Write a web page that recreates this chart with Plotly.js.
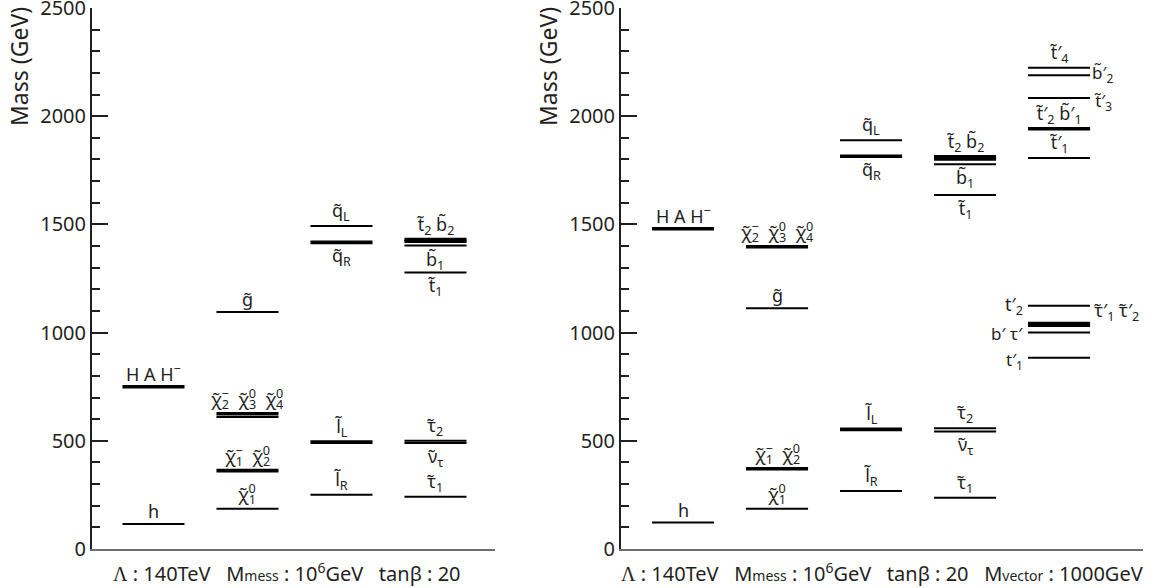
<!DOCTYPE html>
<html>
<head>
<meta charset="utf-8">
<script src="https://cdn.plot.ly/plotly-3.0.1.min.js"></script>
<style>html,body{margin:0;padding:0;background:#fff;}#chart{width:1155px;height:588px;}</style>
</head>
<body>
<div id="chart"></div>
<script>
// ---------- DATA ----------
// Left panel: Λ=140 TeV, Mmess=10^6 GeV, tanβ=20
const leftNames  = ['h','HAH','gluino','chi234a','chi234b','chi12','chi10','qL','qR','lL','lR','t2b2a','t2b2b','b1','t1','tau2','nutau','tau1'];
const leftCols   = [1, 1, 2, 2, 2, 2, 2, 3, 3, 3, 3, 4, 4, 4, 4, 4, 4, 4];
const leftMass   = [115, 750, 1095, 625, 610, 362, 186, 1493, 1417, 494, 251, 1430, 1422, 1402, 1278, 500, 490, 242];
// Right panel: same + Mvector = 1000 GeV
const rightNames = ['h','HAH','gluino','chi234','chi12','chi10','qL','qR','lL','lR','t2b2a','t2b2b','b1','t1','tau2','nutau','tau1',
                    't4p','b2p','t3p','t2pb1p','t1p','tp2','taup1','taup2','bptaup','tp1'];
const rightCols  = [1, 1, 2, 2, 2, 2, 3, 3, 3, 3, 4, 4, 4, 4, 4, 4, 4, 5, 5, 5, 5, 5, 5, 5, 5, 5, 5];
const rightMass  = [122, 1480, 1112, 1397, 371, 186, 1889, 1815, 553, 268, 1813, 1803, 1778, 1636, 558, 543, 237,
                    2224, 2189, 2084, 1942, 1807, 1124, 1042, 1030, 1000, 884];
// levels drawn with a heavy stroke
const thickLeft  = ['HAH','chi234a','chi12','qR','lL','t2b2a','t2b2b'];
const thickRight = ['HAH','chi234','chi12','qR','lL','t2b2a','t2b2b','t2pb1p','taup1'];

const yTicks = [0, 500, 1000, 1500, 2000, 2500];

// ---------- STYLE ----------
const INK = '#231f20';
const FONT = 'Noto Sans, Open Sans, sans-serif';
const HW = 0.33; // half width of a level, in column units

function buildTraces(names, cols, mass, thick, xa, ya) {
  const thin = {x: [], y: []}, heavy = {x: [], y: []};
  names.forEach((n, i) => {
    const t = thick.includes(n) ? heavy : thin;
    t.x.push(cols[i] - HW, cols[i] + HW, null);
    t.y.push(mass[i], mass[i], null);
  });
  const base = {type: 'scatter', mode: 'lines', xaxis: xa, yaxis: ya, hoverinfo: 'skip', showlegend: false};
  return [
    Object.assign({}, base, {x: thin.x, y: thin.y, line: {color: '#000', width: 2}}),
    Object.assign({}, base, {x: heavy.x, y: heavy.y, line: {color: '#000', width: 3.6}})
  ];
}

const data = [].concat(
  buildTraces(leftNames, leftCols, leftMass, thickLeft, 'x', 'y'),
  buildTraces(rightNames, rightCols, rightMass, thickRight, 'x2', 'y2')
);

function mOf(names, mass, n) { return mass[names.indexOf(n)]; }
function cOf(names, cols, n) { return cols[names.indexOf(n)]; }

const ann = [];
function lab(panel, n, text, pos, size) {
  const names = panel === 1 ? leftNames : rightNames;
  const cols = panel === 1 ? leftCols : rightCols;
  const mass = panel === 1 ? leftMass : rightMass;
  const c = cOf(names, cols, n), m = mOf(names, mass, n);
  const a = {xref: panel === 1 ? 'x' : 'x2', yref: panel === 1 ? 'y' : 'y2', text: text, showarrow: false,
             font: {family: FONT, size: size || 18, color: INK}, x: c, y: m};
  if (pos === 'above') { a.yanchor = 'bottom'; a.yshift = -1; }
  else if (pos === 'below') { a.yanchor = 'top'; a.yshift = 1; }
  else if (pos === 'left') { a.x = c - HW; a.xanchor = 'right'; a.xshift = -3; a.yanchor = 'middle'; }
  else if (pos === 'right') { a.x = c + HW; a.xanchor = 'left'; a.xshift = 1; a.yanchor = 'middle'; }
  if (typeof pos === 'object') Object.assign(a, pos);
  ann.push(a);
}
const T = '\u0303';
const chi = '\u03c7' + T;
// stacked sub/superscript: subscript, then step back, then superscript
const BACK = '<span style="letter-spacing:-12px"> </span>';
function ss(sub, sup) { return '<sub>' + sub + '</sub>' + BACK + '<sup>' + sup + '</sup>'; }
const CHI234 = chi + ss('2', '\u2212') + '  ' + chi + ss('3', '0') + '  ' + chi + ss('4', '0');
const CHI12 = chi + ss('1', '\u2212') + '  ' + chi + ss('2', '0');
const CHI1 = chi + ss('1', '0');
// Left panel labels
lab(1, 'h', 'h', 'above');
lab(1, 'HAH', 'H A H<sup>\u2212</sup>', 'above');
lab(1, 'gluino', 'g' + T, 'above');
lab(1, 'chi234a', CHI234, 'above');
lab(1, 'chi12', CHI12, 'above');
lab(1, 'chi10', CHI1, 'above');
lab(1, 'qL', 'q' + T + '<sub>L</sub>', 'above');
lab(1, 'qR', 'q' + T + '<sub>R</sub>', 'below');
lab(1, 'lL', 'l' + T + '<sub>L</sub>', 'above');
lab(1, 'lR', 'l' + T + '<sub>R</sub>', 'above');
lab(1, 't2b2a', 't' + T + '<sub>2</sub> b' + T + '<sub>2</sub>', 'above');
lab(1, 'b1', 'b' + T + '<sub>1</sub>', 'below');
lab(1, 't1', 't' + T + '<sub>1</sub>', 'below');
lab(1, 'tau2', '\u03c4' + T + '<sub>2</sub>', 'above');
lab(1, 'nutau', '\u03bd' + T + '<sub>\u03c4</sub>', 'below');
lab(1, 'tau1', '\u03c4' + T + '<sub>1</sub>', 'above');
// Right panel labels
lab(2, 'h', 'h', 'above');
lab(2, 'HAH', 'H A H<sup>\u2212</sup>', 'above');
lab(2, 'gluino', 'g' + T, 'above');
lab(2, 'chi234', CHI234, 'above');
lab(2, 'chi12', CHI12, 'above');
lab(2, 'chi10', CHI1, 'above');
lab(2, 'qL', 'q' + T + '<sub>L</sub>', 'above');
lab(2, 'qR', 'q' + T + '<sub>R</sub>', 'below');
lab(2, 'lL', 'l' + T + '<sub>L</sub>', 'above');
lab(2, 'lR', 'l' + T + '<sub>R</sub>', 'above');
lab(2, 't2b2a', 't' + T + '<sub>2</sub> b' + T + '<sub>2</sub>', 'above');
lab(2, 'b1', 'b' + T + '<sub>1</sub>', 'below');
lab(2, 't1', 't' + T + '<sub>1</sub>', 'below');
lab(2, 'tau2', '\u03c4' + T + '<sub>2</sub>', 'above');
lab(2, 'nutau', '\u03bd' + T + '<sub>\u03c4</sub>', 'below');
lab(2, 'tau1', '\u03c4' + T + '<sub>1</sub>', 'above');
lab(2, 't4p', 't' + T + '\u2032<sub>4</sub>', 'above');
lab(2, 'b2p', 'b' + T + '\u2032<sub>2</sub>', {x: 5 + HW, xanchor: 'left', xshift: 0, yanchor: 'middle', yshift: 2}, 17);
lab(2, 't3p', 't' + T + '\u2032<sub>3</sub>', {x: 5 + HW, xanchor: 'left', xshift: 2, yanchor: 'middle', yshift: -3}, 17);
lab(2, 't2pb1p', 't' + T + '\u2032<sub>2</sub> b' + T + '\u2032<sub>1</sub>', 'above');
lab(2, 't1p', 't' + T + '\u2032<sub>1</sub>', 'above');
lab(2, 'tp2', 't\u2032<sub>2</sub>', 'left');
lab(2, 'bptaup', 'b\u2032 \u03c4\u2032', {x: 5 - HW, xanchor: 'right', xshift: -3, yanchor: 'middle', yshift: -1}, 17);
lab(2, 'tp1', 't\u2032<sub>1</sub>', {x: 5 - HW, xanchor: 'right', xshift: -3, yanchor: 'middle', yshift: -3}, 17);
lab(2, 'taup1', '\u03c4' + T + '\u2032<sub>1</sub> \u03c4' + T + '\u2032<sub>2</sub>', {x: 5 + HW, xanchor: 'left', xshift: 2, yanchor: 'middle', yshift: 12});

// Axis titles and parameter captions
const SMALL = '<span style="font-size:14px">';
const LAM = '<span style="font-family:Liberation Serif, serif">\u039b</span>';
const capL = LAM + ' : 140TeV   M' + SMALL + 'mess</span> : 10<sup>6</sup>GeV   tan\u03b2 : 20';
const capR = capL + '   M' + SMALL + 'vector</span> : 1000GeV';
ann.push({xref: 'paper', yref: 'paper', x: 287 / 1155, y: 1 - 572 / 588, text: capL, showarrow: false,
          xanchor: 'center', yanchor: 'middle', font: {family: FONT, size: 20, color: INK}});
ann.push({xref: 'paper', yref: 'paper', x: 882 / 1155, y: 1 - 572 / 588, text: capR, showarrow: false,
          xanchor: 'center', yanchor: 'middle', font: {family: FONT, size: 20, color: INK}});
ann.push({xref: 'paper', yref: 'paper', x: 19 / 1155, y: 1 - 67 / 588, text: 'Mass (GeV)', textangle: -90, showarrow: false,
          xanchor: 'center', yanchor: 'middle', font: {family: FONT, size: 23, color: INK}});
ann.push({xref: 'paper', yref: 'paper', x: 548 / 1155, y: 1 - 67 / 588, text: 'Mass (GeV)', textangle: -90, showarrow: false,
          xanchor: 'center', yanchor: 'middle', font: {family: FONT, size: 23, color: INK}});

function yAxis(anchor) {
  return {anchor: anchor, domain: [39 / 588, 580.2 / 588], range: [0, 2501], tickvals: yTicks, ticktext: yTicks.map(String),
          showline: true, linecolor: INK, linewidth: 2, ticks: 'inside', ticklen: 16, tickwidth: 2, tickcolor: INK,
          ticklabeloverflow: 'allow',
          minor: {dtick: 100, ticks: 'inside', ticklen: 8, tickwidth: 2, tickcolor: INK, showgrid: false},
          showgrid: false, zeroline: false, tickfont: {family: FONT, size: 20, color: INK}, fixedrange: true};
}
function xAxis(anchor, dom, rng) {
  return {anchor: anchor, domain: dom, range: rng, showline: true, linecolor: '#6e6e6e', linewidth: 2,
          showticklabels: false, ticks: '', showgrid: false, zeroline: false, fixedrange: true};
}

const layout = {
  width: 1155, height: 588, margin: {l: 0, r: 0, t: 0, b: 0},
  paper_bgcolor: '#fff', plot_bgcolor: '#fff', showlegend: false,
  xaxis: xAxis('y', [92 / 1155, 495 / 1155], [0.346, 4.633]),
  yaxis: yAxis('x'),
  xaxis2: xAxis('y2', [621 / 1155, 1143 / 1155], [0.34, 5.893]),
  yaxis2: yAxis('x2'),
  annotations: ann
};

Plotly.newPlot('chart', data, layout, {displayModeBar: false, staticPlot: true});
</script>
</body>
</html>
